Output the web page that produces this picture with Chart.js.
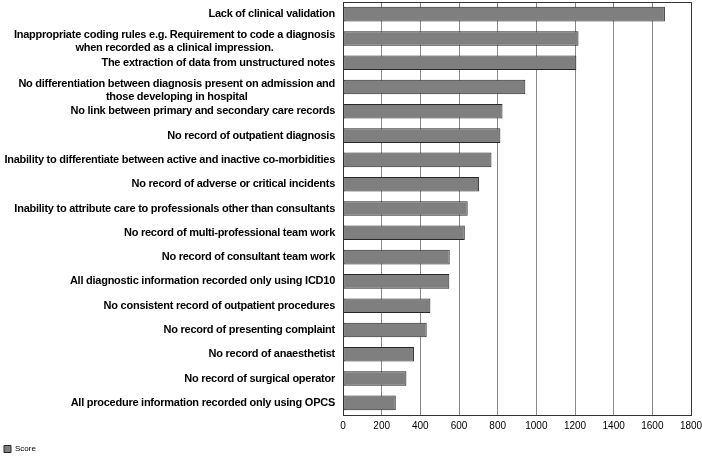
<!DOCTYPE html>
<html>
<head>
<meta charset="utf-8">
<script src="https://cdn.jsdelivr.net/npm/chart.js@4"></script>
<style>
html,body{margin:0;padding:0;background:#fff;}
#wrap{width:702px;height:457px;}
</style>
</head>
<body>
<div id="wrap"><canvas id="c" width="702" height="457"></canvas></div>
<script>
const categories = [
  ["Lack of clinical validation"],
  ["Inappropriate coding rules e.g. Requirement to code a diagnosis", "when recorded as a clinical impression."],
  ["The extraction of data from unstructured notes"],
  ["No differentiation between diagnosis present on admission and", "those developing in hospital"],
  ["No link between primary and secondary care records"],
  ["No record of outpatient diagnosis"],
  ["Inability to differentiate between active and inactive co-morbidities"],
  ["No record of adverse or critical incidents"],
  ["Inability to attribute care to professionals other than consultants"],
  ["No record of multi-professional team work"],
  ["No record of consultant team work"],
  ["All diagnostic information recorded only using ICD10"],
  ["No consistent record of outpatient procedures"],
  ["No record of presenting complaint"],
  ["No record of anaesthetist"],
  ["No record of surgical operator"],
  ["All procedure information recorded only using OPCS"]
];
const scores = [1665, 1218, 1207, 943, 825, 814, 768, 704, 645, 630, 552, 550, 452, 433, 367, 328, 273];
const xTickValues = [0, 200, 400, 600, 800, 1000, 1200, 1400, 1600, 1800];
const seriesName = "Score";

const labelFont = "bold 11px 'Liberation Sans'";
const labelPlugin = {
  id: 'catLabels',
  afterDraw(chart) {
    const s = chart.scales.y;
    const ctx = chart.ctx;
    ctx.save();
    ctx.font = labelFont;
    ctx.letterSpacing = '-0.25px';
    ctx.fillStyle = '#000';
    ctx.textBaseline = 'middle';
    ctx.textAlign = 'center';
    const lh = 13;
    categories.forEach((lines, i) => {
      const y = s.getPixelForTick(i);
      let w = 0;
      lines.forEach(l => { w = Math.max(w, ctx.measureText(l).width); });
      const right = s.right - 8;
      const cx = right - w / 2;
      const y0 = y - (lines.length - 1) * lh / 2 + (lines.length > 1 ? 3 : 0);
      lines.forEach((l, k) => ctx.fillText(l, cx, y0 + k * lh));
    });
    ctx.restore();
  }
};

new Chart(document.getElementById('c'), {
  type: 'bar',
  data: {
    labels: categories.map(l => l.join(' ')),
    datasets: [{
      label: seriesName,
      data: scores,
      backgroundColor: '#7f7f7f',
      borderColor: '#262626',
      borderWidth: 1,
      borderSkipped: false,
      barPercentage: 0.6,
      categoryPercentage: 1
    }]
  },
  options: {
    indexAxis: 'y',
    responsive: false,
    animation: false,
    devicePixelRatio: 1,
    layout: { padding: { top: 2, right: 11, left: 3, bottom: -6 } },
    scales: {
      x: {
        min: 0, max: 1800,
        afterBuildTicks(scale) { scale.ticks = xTickValues.map(v => ({ value: v })); },
        afterFit(scale) { scale.paddingRight = 0; scale.height += 7; },
        ticks: { color: '#000', font: { family: 'Liberation Sans', size: 10 }, padding: 5, maxRotation: 0,
                 callback: v => String(v) },
        grid: { color: '#8a8a8a', lineWidth: 1, drawTicks: false },
        border: { color: '#333', width: 1 }
      },
      y: {
        afterFit(scale) { scale.width = 340; },
        ticks: { display: false },
        grid: { display: false, drawTicks: false },
        border: { color: '#333', width: 1 }
      }
    },
    plugins: {
      legend: {
        position: 'bottom',
        align: 'start',
        labels: {
          color: '#000',
          boxWidth: 7, boxHeight: 7,
          font: { family: 'Liberation Sans', size: 8 },
          padding: 1
        }
      },
      tooltip: { enabled: false }
    }
  },
  plugins: [labelPlugin, {
    id: 'frame',
    afterDraw(chart) {
      const a = chart.chartArea, ctx = chart.ctx;
      ctx.save();
      ctx.strokeStyle = '#333';
      ctx.lineWidth = 1;
      ctx.beginPath();
      ctx.moveTo(a.left, Math.round(a.top) + 0.5);
      ctx.lineTo(Math.round(a.right) + 0.5, Math.round(a.top) + 0.5);
      ctx.lineTo(Math.round(a.right) + 0.5, a.bottom);
      ctx.stroke();
      ctx.restore();
    }
  }]
});
</script>
</body>
</html>
